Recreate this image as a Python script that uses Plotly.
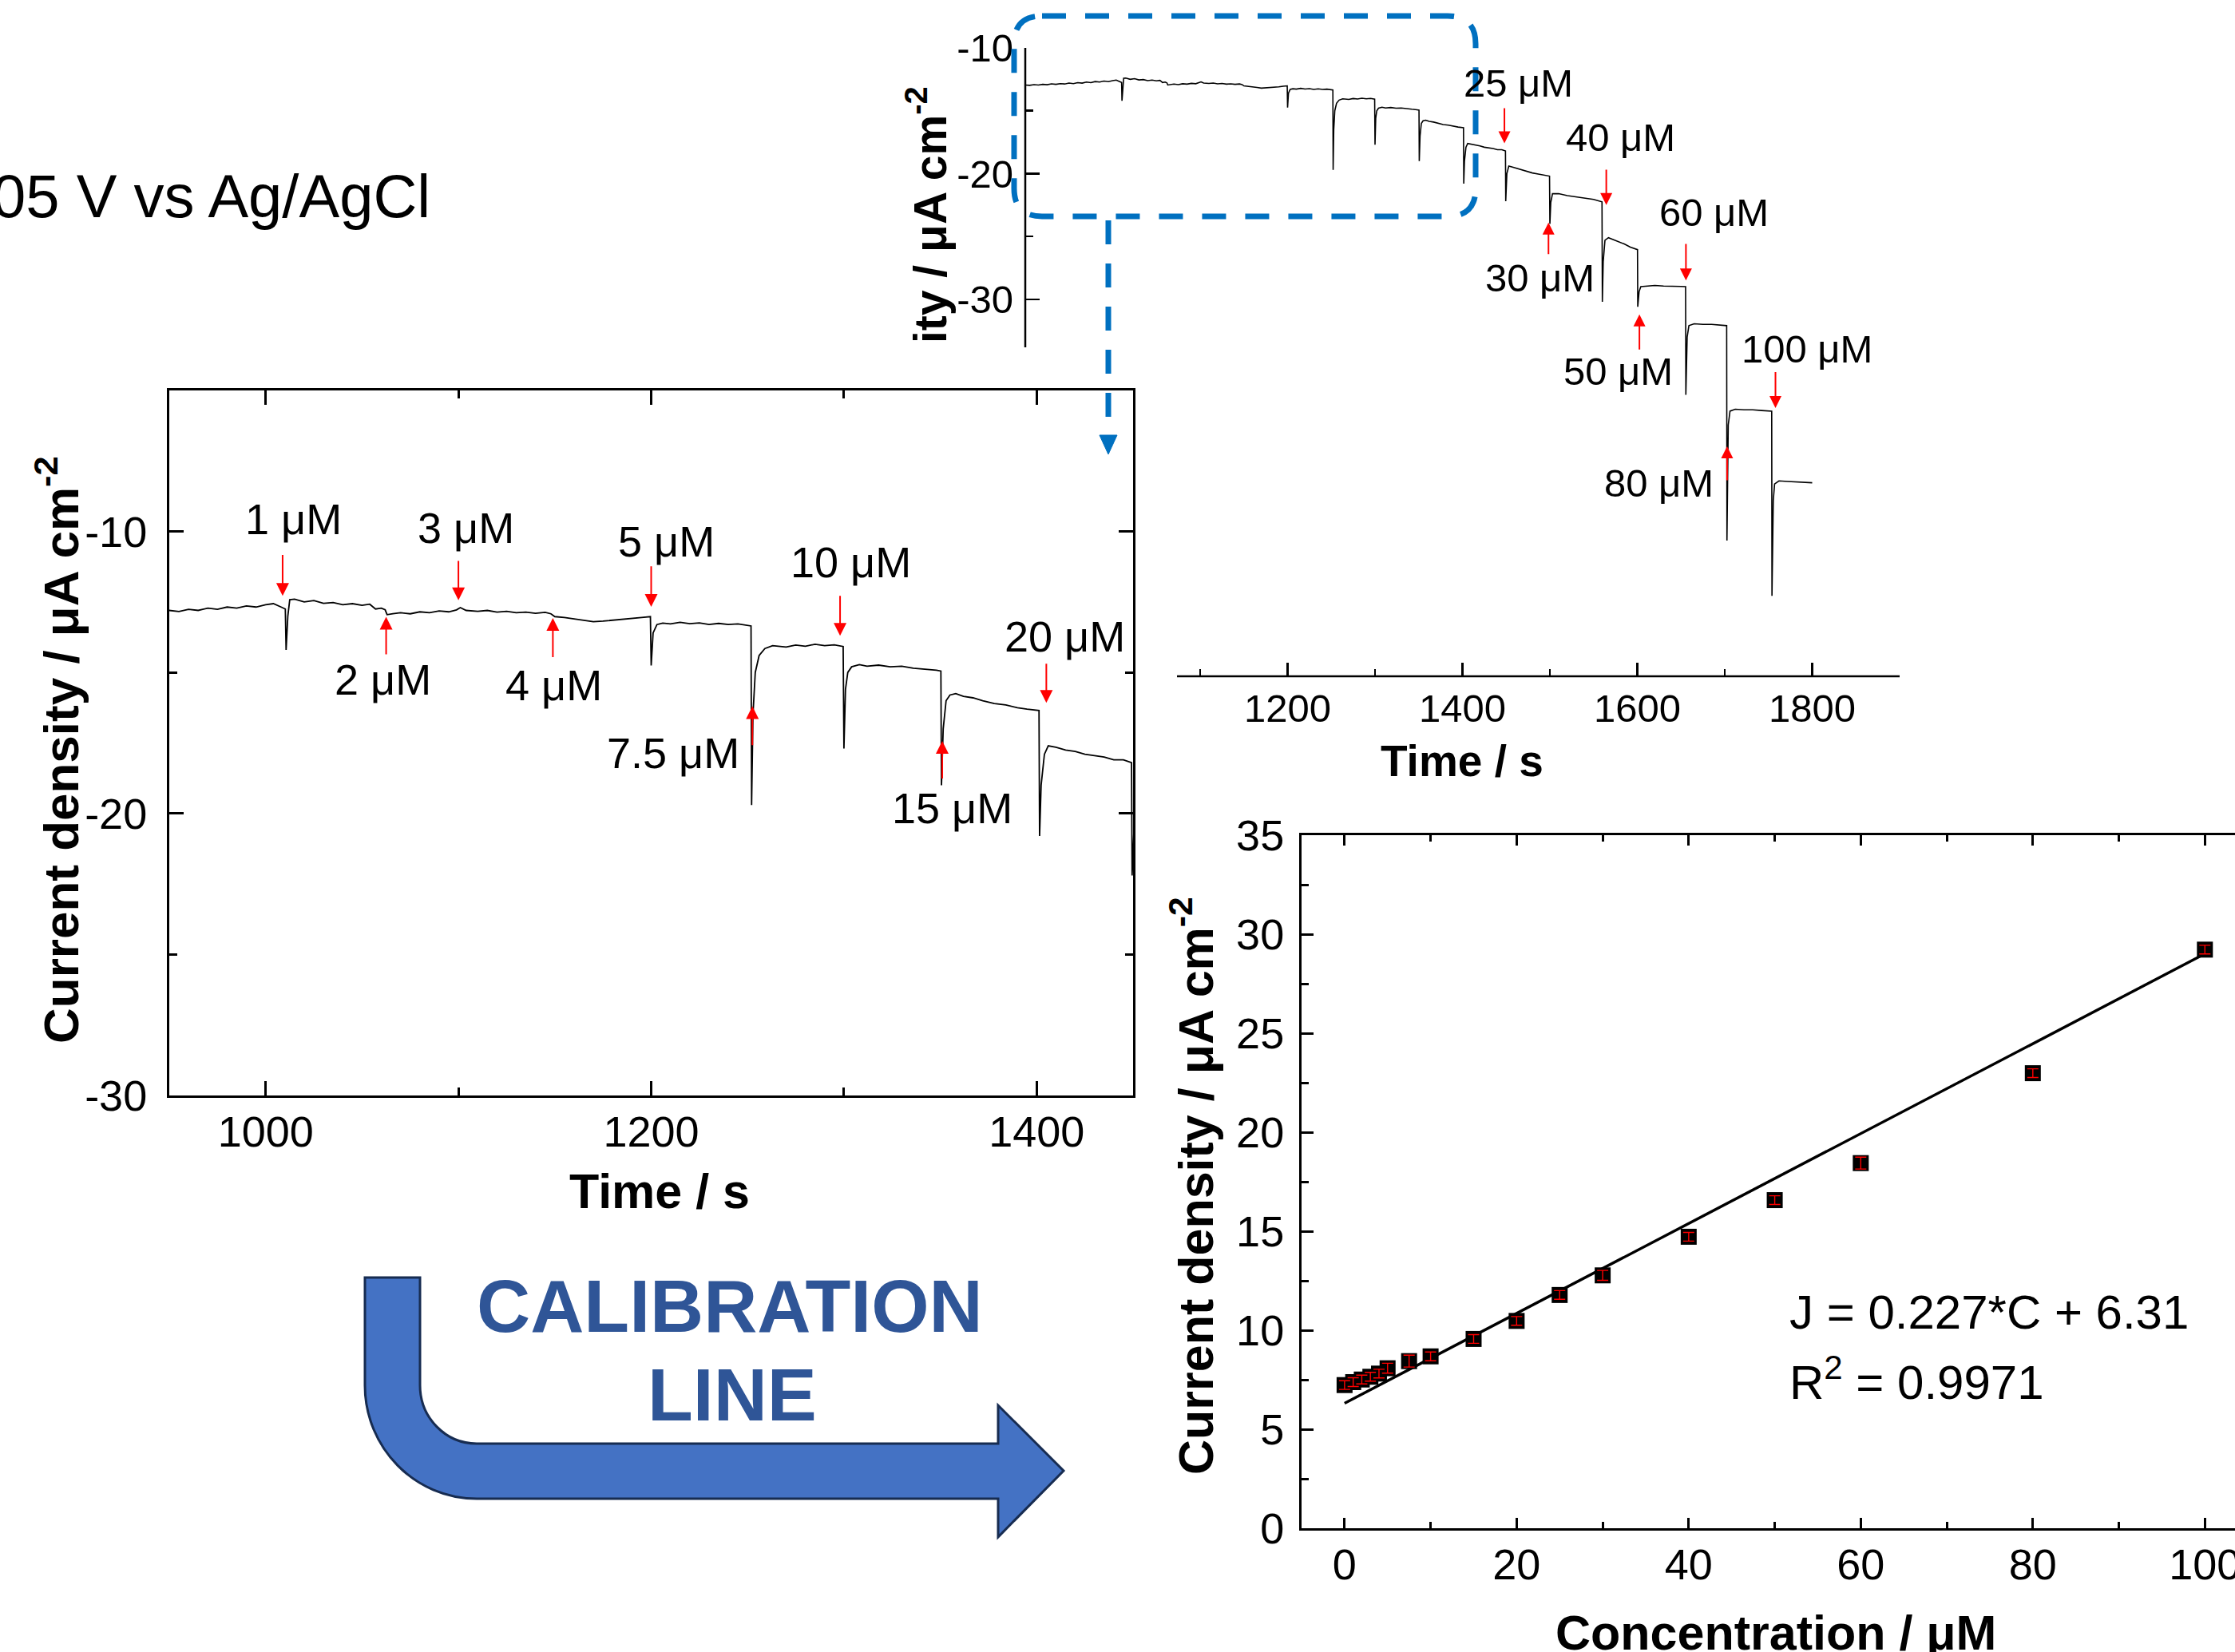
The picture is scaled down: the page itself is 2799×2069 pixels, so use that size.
import plotly.graph_objects as go

W, H = 2799, 2069
FONT = "Liberation Sans, Arial, Helvetica, sans-serif"

# ---------------- data ----------------
time_s = [900, 905, 910, 915, 920, 925, 930, 935, 940, 945, 950, 955, 960, 965, 970, 975, 980, 985,
          990, 995, 1000, 1004, 1008, 1010.2, 1010.6, 1011.5, 1012.5, 1015, 1020, 1025, 1030, 1035,
          1040, 1045, 1050, 1054, 1057, 1060, 1062, 1063, 1066, 1070, 1075, 1080, 1085, 1090, 1095,
          1099, 1101, 1104, 1110, 1115, 1120, 1125, 1130, 1135, 1140, 1145, 1148, 1150, 1155, 1160,
          1165, 1170, 1175, 1180, 1185, 1190, 1195, 1199.6, 1200, 1201, 1203, 1206, 1210, 1215, 1220,
          1225, 1230, 1235, 1240, 1245, 1251.8, 1252.1, 1252.8, 1254, 1256, 1259, 1263, 1270, 1275,
          1280, 1285, 1290, 1295, 1299.6, 1300, 1300.8, 1302, 1304, 1308, 1312, 1318, 1324, 1330,
          1336, 1342, 1348, 1350.3, 1350.6, 1351.5, 1353, 1355, 1358, 1362, 1367, 1372, 1378, 1384,
          1390, 1395, 1401.2, 1401.5, 1402.3, 1404, 1406, 1410, 1415, 1420, 1425, 1430, 1435, 1440,
          1445, 1449.2, 1449.5, 1450.8, 1453, 1458, 1465, 1472, 1480, 1488, 1495, 1499.6, 1500,
          1501, 1503, 1510, 1520, 1530, 1540, 1550, 1559.6, 1560, 1561, 1563, 1567, 1575, 1585, 1592,
          1600.2, 1600.5, 1602, 1604, 1610, 1620, 1630, 1640, 1650, 1655.2, 1655.5, 1657, 1659,
          1665, 1675, 1685, 1695, 1702.2, 1702.5, 1704, 1706, 1712, 1722, 1732, 1742, 1753.7, 1754,
          1755.5, 1757, 1762, 1772, 1785, 1800]
current_density = [-12.95, -12.98, -12.92, -12.95, -12.90, -12.93, -12.86, -12.90, -12.84, -12.87,
                   -12.80, -12.84, -12.76, -12.80, -12.72, -12.76, -12.68, -12.72, -12.64, -12.68,
                   -12.60, -12.56, -12.68, -12.75, -14.20, -13.00, -12.42, -12.40, -12.50, -12.45,
                   -12.55, -12.52, -12.60, -12.56, -12.62, -12.58, -12.75, -12.72, -12.78, -12.95,
                   -12.92, -12.88, -12.92, -12.85, -12.88, -12.82, -12.85, -12.78, -12.70, -12.80,
                   -12.83, -12.80, -12.86, -12.83, -12.88, -12.86, -12.90, -12.87, -12.92, -13.02,
                   -13.05, -13.10, -13.15, -13.20, -13.18, -13.15, -13.12, -13.10, -13.05, -13.02,
                   -14.75, -13.60, -13.30, -13.25, -13.28, -13.22, -13.27, -13.24, -13.30, -13.26,
                   -13.30, -13.28, -13.35, -19.70, -16.50, -15.00, -14.40, -14.15, -14.05, -14.10,
                   -14.03, -14.07, -14.00, -14.05, -14.02, -14.08, -17.70, -15.60, -15.00, -14.80,
                   -14.72, -14.78, -14.74, -14.80, -14.78, -14.85, -14.88, -14.92, -14.95, -19.00,
                   -17.00, -16.00, -15.80, -15.75, -15.85, -15.90, -16.00, -16.10, -16.15, -16.25,
                   -16.30, -16.35, -20.80, -19.00, -17.90, -17.60, -17.65, -17.75, -17.80, -17.90,
                   -17.95, -18.00, -18.10, -18.10, -18.20, -22.20, -20.00, -19.40, -19.50, -19.65,
                   -19.80, -19.95, -20.05, -20.15, -20.20, -24.00, -22.30, -21.60, -21.60, -21.75,
                   -21.85, -21.95, -22.05, -22.25, -30.20, -27.00, -25.30, -25.10, -25.30, -25.60,
                   -25.85, -26.05, -30.60, -29.40, -29.00, -28.95, -28.90, -28.95, -28.95, -28.98,
                   -29.00, -37.60, -33.00, -32.10, -31.95, -32.00, -32.00, -32.05, -32.10, -49.20,
                   -40.00, -38.90, -38.75, -38.80, -38.80, -38.85, -38.90, -53.60, -46.00, -44.70,
                   -44.45, -44.50, -44.55, -44.60]

conc_uM = [0, 1, 2, 3, 4, 5, 7.5, 10, 15, 20, 25, 30, 40, 50, 60, 80, 100]
j_uA = [7.23, 7.38, 7.51, 7.65, 7.81, 8.08, 8.44, 8.68, 9.56, 10.47, 11.78, 12.77, 14.72, 16.57,
        18.44, 22.98, 29.22]
j_err = [0.22, 0.22, 0.22, 0.22, 0.22, 0.25, 0.3, 0.22, 0.22, 0.22, 0.22, 0.25, 0.22, 0.22,
         0.3, 0.22, 0.22]
fit_slope = 0.227
fit_intercept = 6.31
fit_conc = [0, 100]

# inset (zoomed) addition labels and arrows
zoom_labels = ["1 μM", "2 μM", "3 μM", "4 μM", "5 μM", "7.5 μM", "10 μM", "15 μM", "20 μM"]
zoom_label_t = [1014.6, 1061, 1104, 1149.4, 1208, 1211.5, 1303.4, 1356.3, 1414.6]
zoom_label_j = [-9.55, -15.25, -9.86, -15.45, -10.34, -17.85, -11.09, -19.8, -13.72]
zoom_arrow_t = [1008.8, 1062.5, 1100, 1149, 1200, 1252.5, 1298, 1351, 1405]
zoom_arrow_tail = [-10.79, -14.4, -11.0, -14.5, -11.19, -17.62, -12.24, -18.8, -14.65]
zoom_arrow_tip = [-12.28, -13.03, -12.44, -13.07, -12.67, -16.2, -13.7, -17.43, -16.08]

# full-run addition labels and arrows
full_labels = ["25 μM", "40 μM", "60 μM", "100 μM", "30 μM", "50 μM", "80 μM"]
full_label_t = [1464, 1581, 1688, 1794, 1488.5, 1578, 1625]
full_label_j = [-12.8, -17.1, -23.1, -33.95, -28.3, -35.75, -44.6]
full_arrow_t = [1448, 1564.5, 1655.6, 1758, 1498.4, 1602.4, 1702.7]
full_arrow_tail = [-14.7, -19.6, -25.5, -35.7, -26.5, -34.1, -44.5]
full_arrow_tip = [-17.6, -22.5, -28.5, -38.65, -23.9, -31.2, -41.7]

# tick values
A_x_major = [1200, 1400, 1600, 1800]
A_x_top_major = [1000, 1200, 1400, 1600, 1800]
A_x_minor = [1100, 1300, 1500, 1700, 1900]
A_y_major = [-10, -20, -30]
A_y_minor = [-15, -25]
A_y_right_major = [-10, -20, -30, -40, -50, -60]
A_y_right_minor = [-15, -25, -35, -45, -55]
B_x_major = [1000, 1200, 1400]
B_x_minor = [1100, 1300]
B_y_major = [-10, -20, -30]
B_y_minor = [-15, -25]
C_x_major = [0, 20, 40, 60, 80, 100]
C_x_minor = [10, 30, 50, 70, 90]
C_y_major = [0, 5, 10, 15, 20, 25, 30, 35]
C_y_minor = [2.5, 7.5, 12.5, 17.5, 22.5, 27.5, 32.5]


def labels(vals):
    return [f"{v:g}" for v in vals]


def fx(p):
    return p / W


def fy(p):
    return 1 - p / H


fig = go.Figure()

# Panel A: full chronoamperogram
fig.add_trace(go.Scatter(x=time_s, y=current_density, mode="lines",
                         line=dict(color="black", width=1.6), xaxis="x", yaxis="y",
                         showlegend=False, hoverinfo="skip"))
# Panel B: zoomed chronoamperogram
fig.add_trace(go.Scatter(x=time_s, y=current_density, mode="lines",
                         line=dict(color="black", width=1.8), xaxis="x3", yaxis="y3",
                         showlegend=False, hoverinfo="skip"))
# Panel C: calibration
fit_j = [fit_slope * c + fit_intercept for c in fit_conc]
fig.add_trace(go.Scatter(x=fit_conc, y=fit_j, mode="lines",
                         line=dict(color="black", width=3.5), xaxis="x4", yaxis="y4",
                         showlegend=False, hoverinfo="skip"))
fig.add_trace(go.Scatter(x=conc_uM, y=j_uA, mode="markers",
                         marker=dict(symbol="square", size=20, color="black", line=dict(width=0)),
                         xaxis="x4", yaxis="y4", showlegend=False, hoverinfo="skip"))
fig.add_trace(go.Scatter(x=conc_uM, y=j_uA, mode="markers",
                         marker=dict(size=1, color="rgba(0,0,0,0)"),
                         error_y=dict(type="data", array=j_err, color="red", thickness=1.4,
                                      width=7),
                         xaxis="x4", yaxis="y4", showlegend=False, hoverinfo="skip"))


def axis_common(**kw):
    d = dict(showgrid=False, zeroline=False, ticks="inside", tickcolor="black",
             tickfont=dict(family=FONT, size=54, color="black"), linecolor="black",
             fixedrange=True, automargin=False, ticklabeloverflow="allow")
    d.update(kw)
    return d


# ---- Panel A axes
A_dom_x = [fx(1284), fx(2379)]
A_dom_y = [fy(847), fy(60)]
fig.update_layout(
    xaxis=axis_common(domain=A_dom_x, range=[900, 1900], anchor="y", showline=False,
                      tickmode="array", tickvals=A_x_major, ticktext=labels(A_x_major),
                      ticklen=17, tickwidth=2.5,
                      tickfont=dict(family=FONT, size=49, color="black"), ticklabelstandoff=7,
                      minor=dict(tickmode="array", tickvals=A_x_minor, ticks="inside", ticklen=9,
                                 tickwidth=2.5, tickcolor="black")),
    xaxis2=axis_common(domain=A_dom_x, range=[900, 1900], anchor="y", overlaying="x", side="top",
                       showline=True, linewidth=2.5, tickmode="array", tickvals=A_x_top_major,
                       ticklen=17, tickwidth=2.5, showticklabels=False,
                       minor=dict(tickmode="array", tickvals=A_x_minor, ticks="inside", ticklen=9,
                                  tickwidth=2.5, tickcolor="black")),
    yaxis=axis_common(domain=A_dom_y, range=[-60, -10], anchor="x", showline=False,
                      tickmode="array", tickvals=A_y_major, ticktext=labels(A_y_major),
                      ticklen=18, tickwidth=2.5,
                      tickfont=dict(family=FONT, size=49, color="black"), ticklabelstandoff=14,
                      minor=dict(tickmode="array", tickvals=A_y_minor, ticks="inside", ticklen=10,
                                 tickwidth=2.5, tickcolor="black")),
    yaxis2=axis_common(domain=A_dom_y, range=[-60, -10], anchor="x", overlaying="y", side="right",
                       showline=True, linewidth=2.5, tickmode="array", tickvals=A_y_right_major,
                       ticklen=18, tickwidth=2.5, showticklabels=False,
                       minor=dict(tickmode="array", tickvals=A_y_right_minor, ticks="inside",
                                  ticklen=10, tickwidth=2.5, tickcolor="black")),
)

# ---- Panel B axes
fig.update_layout(
    xaxis3=axis_common(domain=[fx(212), fx(1419)], range=[950, 1450], anchor="y3", showline=True,
                       linewidth=3, mirror="ticks", tickmode="array", tickvals=B_x_major,
                       ticktext=labels(B_x_major), ticklen=18, tickwidth=3, ticklabelstandoff=-4,
                       minor=dict(tickmode="array", tickvals=B_x_minor, ticks="inside", ticklen=10,
                                  tickwidth=3, tickcolor="black")),
    yaxis3=axis_common(domain=[fy(1372), fy(489)], range=[-30, -5], anchor="x3", showline=True,
                       linewidth=3, mirror="ticks", tickmode="array", tickvals=B_y_major,
                       ticktext=labels(B_y_major), ticklen=18, tickwidth=3, ticklabelstandoff=14,
                       minor=dict(tickmode="array", tickvals=B_y_minor, ticks="inside", ticklen=10,
                                  tickwidth=3, tickcolor="black")),
)

# ---- Panel C axes
fig.update_layout(
    xaxis4=axis_common(domain=[fx(1630), 1.0], range=[-5, 103.5], anchor="y4", showline=True,
                       linewidth=3, mirror="ticks", tickmode="array", tickvals=C_x_major,
                       ticktext=labels(C_x_major), ticklen=13, tickwidth=3, ticklabelstandoff=-4,
                       minor=dict(tickmode="array", tickvals=C_x_minor, ticks="inside", ticklen=8,
                                  tickwidth=3, tickcolor="black")),
    yaxis4=axis_common(domain=[fy(1914), fy(1046)], range=[0, 35], anchor="x4", showline=True,
                       linewidth=3, mirror=False, tickmode="array", tickvals=C_y_major,
                       ticktext=labels(C_y_major), ticklen=15, tickwidth=3, ticklabelstandoff=8,
                       minor=dict(tickmode="array", tickvals=C_y_minor, ticks="inside", ticklen=9,
                                  tickwidth=3, tickcolor="black")),
)

annotations = []


def paper_text(text, x, y, size, bold=False, color="black", angle=0, xanchor="center",
               yanchor="middle"):
    annotations.append(dict(text=text, x=fx(x), y=fy(y), xref="paper", yref="paper",
                            showarrow=False, xanchor=xanchor, yanchor=yanchor, textangle=angle,
                            font=dict(family=FONT, size=size, color=color,
                                      weight="bold" if bold else "normal")))


# axis titles
paper_text("Time / s", 1831, 953, 55, bold=True)
paper_text("ity / μA cm<sup>-2</sup>", 1161, 432, 57, bold=True, angle=-90, yanchor="bottom")
paper_text("Time / s", 826, 1492, 61, bold=True)
paper_text("Current density / μA cm<sup>-2</sup>", 72, 939, 62, bold=True, angle=-90)
paper_text("Concentration / μM", 2224, 2045, 61, bold=True)
paper_text("Current density / μA cm<sup>-2</sup>", 1493, 1485, 61, bold=True, angle=-90)

# potential note
paper_text("05 V vs Ag/AgCl", -12, 245, 76, xanchor="left")

# calibration arrow text
paper_text("CALIBRATION", 914, 1636, 93, bold=True, color="#2F5597")
paper_text("LINE", 917, 1747, 93, bold=True, color="#2F5597")

# equation
annotations.append(dict(text="J = 0.227*C + 6.31", x=51.5, y=10.9, xref="x4", yref="y4",
                        showarrow=False, xanchor="left", yanchor="middle",
                        font=dict(family=FONT, size=60, color="black")))
annotations.append(dict(text="R<sup>2</sup> = 0.9971", x=51.5, y=7.55, xref="x4", yref="y4",
                        showarrow=False, xanchor="left", yanchor="middle",
                        font=dict(family=FONT, size=60, color="black")))

# addition labels & arrows, inset
for lab, t, j in zip(zoom_labels, zoom_label_t, zoom_label_j):
    annotations.append(dict(text=lab, x=t, y=j, xref="x3", yref="y3", showarrow=False,
                            font=dict(family=FONT, size=54, color="black")))
for t, a, b in zip(zoom_arrow_t, zoom_arrow_tail, zoom_arrow_tip):
    annotations.append(dict(text="", x=t, y=b, ax=t, ay=a, xref="x3", yref="y3", axref="x3",
                            ayref="y3", showarrow=True, arrowhead=2, arrowsize=1.6, arrowwidth=2,
                            arrowcolor="#FF0000", standoff=0, startstandoff=0))
# addition labels & arrows, full run
for lab, t, j in zip(full_labels, full_label_t, full_label_j):
    annotations.append(dict(text=lab, x=t, y=j, xref="x", yref="y", showarrow=False,
                            font=dict(family=FONT, size=49, color="black")))
for t, a, b in zip(full_arrow_t, full_arrow_tail, full_arrow_tip):
    annotations.append(dict(text="", x=t, y=b, ax=t, ay=a, xref="x", yref="y", axref="x",
                            ayref="y", showarrow=True, arrowhead=2, arrowsize=1.5, arrowwidth=2,
                            arrowcolor="#FF0000", standoff=0, startstandoff=0))


def P(x, y):
    return f"{fx(x):.6f},{fy(y):.6f}"


shapes = []
# left axis segment and bottom axis segment of panel A (partly hidden in original)
shapes.append(dict(type="line", xref="paper", yref="paper", x0=fx(1284), x1=fx(1284),
                   y0=fy(60), y1=fy(435), line=dict(color="black", width=2.5), layer="above"))
shapes.append(dict(type="line", xref="paper", yref="paper", x0=fx(1474), x1=fx(2379),
                   y0=fy(847), y1=fy(847), line=dict(color="black", width=2.5), layer="above"))

# dashed rounded zoom box
L, R, T, B, r = 1270, 1848, 20, 271, 35
box_path = (f"M{P(L + r, T)} L{P(R - r, T)} Q{P(R, T)} {P(R, T + r)} L{P(R, B - r)} "
            f"Q{P(R, B)} {P(R - r, B)} L{P(L + r, B)} Q{P(L, B)} {P(L, B - r)} "
            f"L{P(L, T + r)} Q{P(L, T)} {P(L + r, T)} Z")
shapes.append(dict(type="path", xref="paper", yref="paper", path=box_path,
                   line=dict(color="#0070C0", width=7, dash="30px,24px")))
shapes.append(dict(type="line", xref="paper", yref="paper", x0=fx(1388), x1=fx(1388),
                   y0=fy(276), y1=fy(546), line=dict(color="#0070C0", width=7, dash="30px,24px")))
shapes.append(dict(type="path", xref="paper", yref="paper",
                   path=f"M{P(1377, 545)} L{P(1399, 545)} L{P(1388, 569)} Z",
                   fillcolor="#0070C0", line=dict(color="#0070C0", width=1)))

# bent calibration arrow
k = 0.5523
arrow_path = (f"M{P(457, 1600)} L{P(526, 1600)} L{P(526, 1735)} "
              f"C{P(526, 1735 + k * 73)} {P(597 - k * 71, 1808)} {P(597, 1808)} "
              f"L{P(1250, 1808)} L{P(1250, 1760)} L{P(1332, 1842)} L{P(1250, 1925)} "
              f"L{P(1250, 1877)} L{P(597, 1877)} "
              f"C{P(597 - k * 140, 1877)} {P(457, 1735 + k * 142)} {P(457, 1735)} Z")
shapes.append(dict(type="path", xref="paper", yref="paper", path=arrow_path,
                   fillcolor="#4472C4", line=dict(color="#172C51", width=3)))

fig.update_layout(
    width=W, height=H, margin=dict(l=0, r=0, t=0, b=0, pad=0, autoexpand=False), autosize=False,
    paper_bgcolor="white", plot_bgcolor="rgba(0,0,0,0)", showlegend=False,
    annotations=annotations, shapes=shapes,
    font=dict(family=FONT, color="black"),
)

fig.write_html("out.html", config={"displayModeBar": False, "staticPlot": True},
               post_script="document.body.style.margin='0';document.body.style.overflow='hidden';")
